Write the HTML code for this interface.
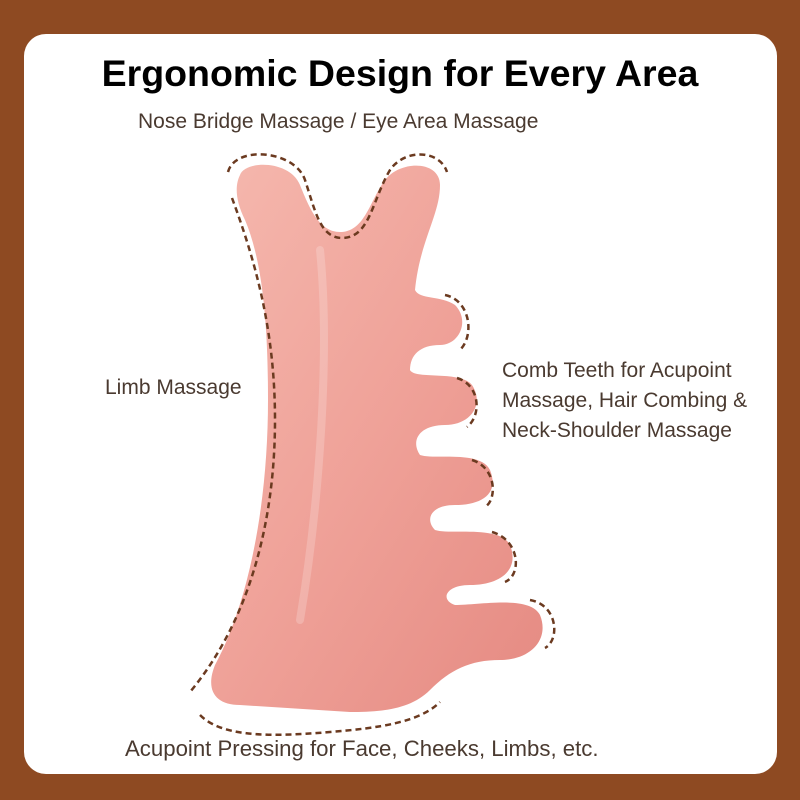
<!DOCTYPE html>
<html><head><meta charset="utf-8"><style>
html,body{margin:0;padding:0;}
body{width:800px;height:800px;background:#8E4A22;position:relative;overflow:hidden;font-family:"Liberation Sans",sans-serif;}
.card{position:absolute;left:24px;top:34px;width:753px;height:740px;background:#fff;border-radius:22px;}
.t{position:absolute;color:#4a3a30;font-size:21px;white-space:nowrap;}
h1{position:absolute;left:0;width:800px;top:52px;margin:0;text-align:center;font-size:37.5px;font-weight:bold;color:#000;}
svg{position:absolute;left:0;top:0;}
</style></head><body>
<div class="card"></div>
<h1>Ergonomic Design for Every Area</h1>
<div class="t" style="left:138px;top:110px;">Nose Bridge Massage / Eye Area Massage</div>
<div class="t" style="left:105px;top:376px;">Limb Massage</div>
<div class="t" style="left:502px;top:356px;line-height:30px;">Comb Teeth for Acupoint<br>Massage, Hair Combing &amp;<br>Neck-Shoulder Massage</div>
<div class="t" style="left:125px;top:736px;font-size:22.2px;">Acupoint Pressing for Face, Cheeks, Limbs, etc.</div>
<svg width="800" height="800" viewBox="0 0 800 800">
<defs>
<linearGradient id="g" x1="0" y1="0" x2="1" y2="1">
<stop offset="0" stop-color="#F5B8AE"/><stop offset="0.5" stop-color="#EFA198"/><stop offset="1" stop-color="#E58A82"/>
</linearGradient>
</defs>
<path fill="url(#g)" d="M 240,175 C 245,160 290,160 300,185 C 310,210 320,232 340,232 C 365,232 370,200 385,180 C 400,160 440,160 440,185 C 440,215 420,240 415,290 C 420,300 440,295 455,305 C 470,320 460,345 440,345 C 420,345 410,355 410,370 C 415,380 460,370 472,385 C 485,405 470,425 445,425 C 420,425 410,440 420,455 C 435,460 480,450 490,470 C 500,495 480,505 455,505 C 430,505 425,520 435,530 C 450,535 500,525 510,545 C 520,570 500,585 470,585 C 445,585 440,600 455,605 C 480,605 530,595 540,615 C 550,640 530,660 500,660 C 470,660 450,670 430,690 C 410,710 380,712 350,712 L 240,705 C 215,705 205,690 215,665 C 250,600 268,500 268,400 C 268,320 262,260 245,220 C 235,200 235,185 240,175 Z"/>
<path fill="none" stroke="#fff" stroke-opacity="0.2" stroke-width="8" stroke-linecap="round" d="M 320,250 C 330,350 320,500 300,620"/>
<g fill="none" stroke="#6B3A20" stroke-width="2.5" stroke-dasharray="6 4">
<path d="M 228,172 C 235,145 295,150 305,180 C 315,210 320,238 342,238 C 370,238 372,200 390,170 C 405,148 440,150 447,172"/>
<path d="M 232,198 C 255,260 275,330 275,420 C 275,520 250,620 190,692"/>
<path d="M 200,715 C 220,735 260,738 330,732 C 380,728 420,722 440,702"/>
<path d="M 445,295 C 470,300 475,335 460,350"/>
<path d="M 457,378 C 480,385 482,415 467,427"/>
<path d="M 472,460 C 497,468 497,500 485,507"/>
<path d="M 492,532 C 520,540 522,575 505,582"/>
<path d="M 530,600 C 558,605 560,640 545,648"/>
</g>
</svg>
</body></html>
